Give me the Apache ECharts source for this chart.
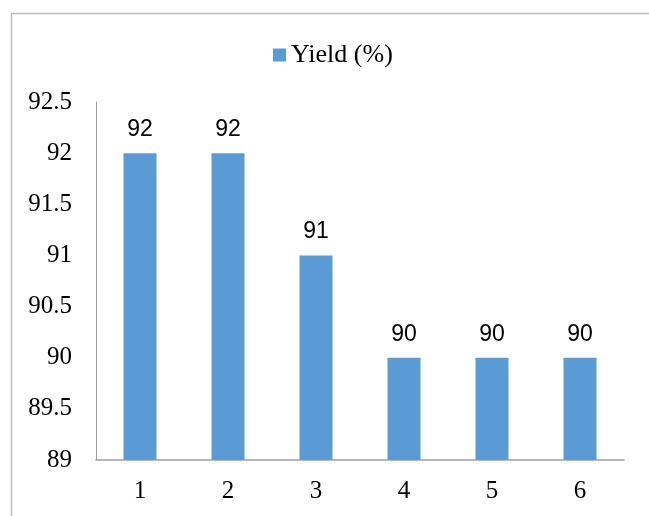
<!DOCTYPE html>
<html>
<head>
<meta charset="utf-8">
<script src="https://cdn.jsdelivr.net/npm/echarts@6/dist/echarts.min.js"></script>
<style>
html,body{margin:0;padding:0;background:#fff;}
#c{width:649px;height:516px;}
</style>
</head>
<body>
<div id="c"></div>
<script>
const categories = ['1','2','3','4','5','6'];
const yieldValues = [92, 92, 91, 90, 90, 90];
const seriesName = 'Yield (%)';
const yMin = 89, yMax = 92.5, yStep = 0.5;

const SERIF = 'Liberation Serif';
const chart = echarts.init(document.getElementById('c'), null, {renderer:'canvas'});
chart.setOption({
  animation: false,
  backgroundColor: '#fff',
  textStyle: {fontFamily: SERIF},
  graphic: [{
    type: 'rect', left: 9, top: 11, silent: true,
    shape: {width: 700, height: 600},
    style: {fill: 'none', stroke: '#BDBDBD', lineWidth: 1.5}
  }],
  legend: {
    data: [seriesName],
    left: 268, top: 37,
    itemWidth: 13, itemHeight: 13, itemGap: 5,
    icon: 'rect',
    textStyle: {fontFamily: SERIF, fontSize: 26, color: '#000'}
  },
  grid: {left: 96, top: 102, right: 25, bottom: 56, containLabel: false},
  xAxis: {
    type: 'category', data: categories,
    axisLine: {lineStyle: {color: '#9E9E9E', width: 1.5}},
    axisTick: {show: false},
    axisLabel: {fontFamily: SERIF, fontSize: 25, color: '#000', margin: 19}
  },
  yAxis: {
    type: 'value', min: yMin, max: yMax, interval: yStep,
    axisLine: {show: true, lineStyle: {color: '#9E9E9E', width: 1}},
    axisTick: {show: false},
    splitLine: {show: false},
    axisLabel: {fontFamily: SERIF, fontSize: 25, color: '#000', margin: 24,
      formatter: v => '{s|' + v + '}',
      rich: {s: {fontFamily: SERIF, fontSize: 25, color: '#000'}}}
  },
  series: [{
    name: seriesName, type: 'bar', data: yieldValues,
    barWidth: 33,
    itemStyle: {color: '#5B9BD5'},
    label: {show: true, position: 'top', distance: 12,
      fontFamily: 'Liberation Sans', fontSize: 23, color: '#000'}
  }]
});
</script>
</body>
</html>
